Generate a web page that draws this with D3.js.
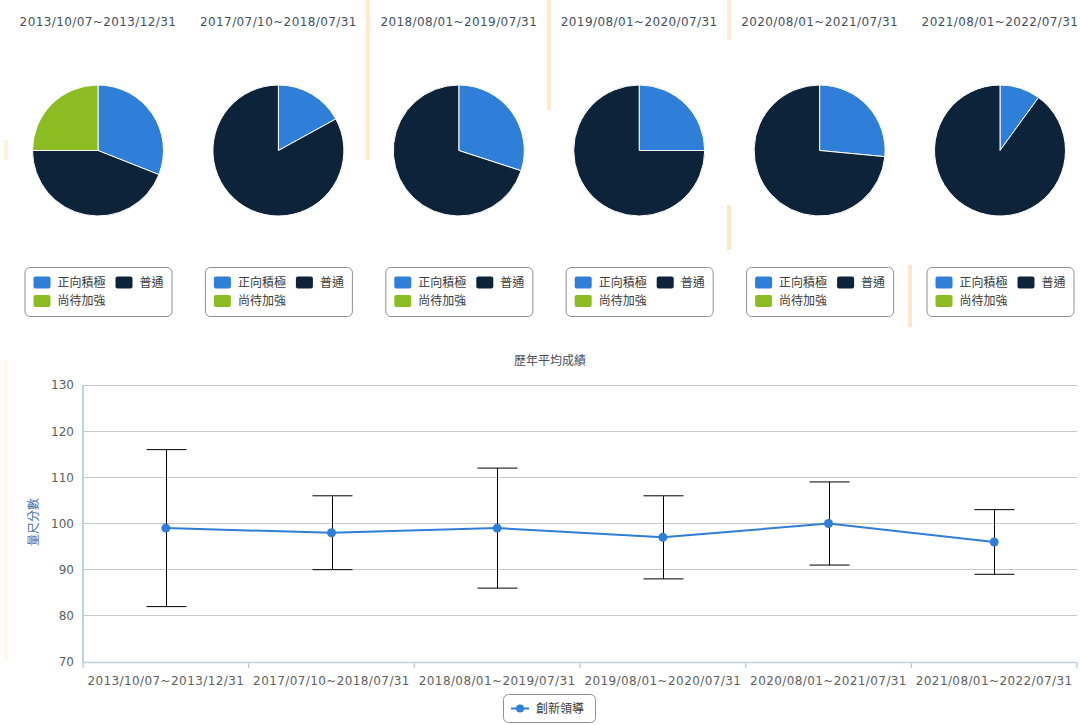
<!DOCTYPE html>
<html>
<head>
<meta charset="utf-8">
<script src="https://cdn.jsdelivr.net/npm/d3@7/dist/d3.min.js"></script>
<style>
  html, body { margin: 0; padding: 0; background: #fff; }
  svg { display: block; font-family: "DejaVu Sans", "Noto Sans CJK TC", sans-serif; }
</style>
</head>
<body>
<svg id="chart" width="1080" height="725"></svg>
<script>
// ---------- data ----------
const periods = ["2013/10/07~2013/12/31", "2017/07/10~2018/07/31", "2018/08/01~2019/07/31",
                 "2019/08/01~2020/07/31", "2020/08/01~2021/07/31", "2021/08/01~2022/07/31"];
const pieCategories = ["正向積極", "普通", "尚待加強"];
const positiveShare = [31, 17, 30, 25, 26.5, 10];
const normalShare   = [44, 83, 70, 75, 73.5, 90];
const improveShare  = [25, 0, 0, 0, 0, 0];

const meanScores = [99, 98, 99, 97, 100, 96];
const lowScores  = [82, 90, 86, 88, 91, 89];
const highScores = [116, 106, 112, 106, 109, 103];
const yTicks = [70, 80, 90, 100, 110, 120, 130];
const lineTitle = "歷年平均成績";
const yAxisTitle = "量尺分數";
const seriesName = "創新領導";

// ---------- style ----------
const pieColors = ["#2F7ED8", "#0D233A", "#8BBC21"];
const svg = d3.select("#chart");

// faint decorative stripes (screenshot background)
const stripes = svg.append("g").attr("fill", "#FFD9A0");
[[366, 0, 160, 0.55], [547, 0, 110, 0.55], [727, 0, 40, 0.45], [727, 205, 45, 0.6], [908, 265, 62, 0.6],
 [4, 140, 20, 0.35], [4, 360, 300, 0.2]]
  .forEach(s => stripes.append("rect").attr("x", s[0]).attr("y", s[1]).attr("width", 4)
    .attr("height", s[2]).attr("opacity", s[3]));

// ---------- pies ----------
const panelX = d3.scalePoint().domain(periods).range([98, 1000]);
const pie = d3.pie().sort(null).value(d => d.v);
const arc = d3.arc().innerRadius(0).outerRadius(65.5);

periods.forEach((p, i) => {
  const cx = panelX(p);
  const g = svg.append("g");
  g.append("text").attr("x", cx).attr("y", 26).attr("text-anchor", "middle")
    .attr("font-size", 12).attr("letter-spacing", "0.4px").attr("fill", "#44505E").text(p);

  const vals = [positiveShare[i], normalShare[i], improveShare[i]]
    .map((v, k) => ({ v, k }));
  const pg = g.append("g").attr("transform", `translate(${cx},150.5)`);
  pg.selectAll("path").data(pie(vals).filter(d => d.data.v > 0)).join("path")
    .attr("d", arc).attr("fill", d => pieColors[d.data.k])
    .attr("stroke", "#fff").attr("stroke-width", 1);

  // legend
  const lg = g.append("g").attr("transform", `translate(${cx - 73.5},267)`);
  lg.append("rect").attr("x", 0.5).attr("y", 0.5).attr("width", 147).attr("height", 49)
    .attr("rx", 5).attr("fill", "#fff").attr("stroke", "#909090");
  const items = [
    { k: 0, x: 9, y: 15.5 },
    { k: 1, x: 91, y: 15.5 },
    { k: 2, x: 9, y: 34 }
  ];
  items.forEach(it => {
    lg.append("rect").attr("x", it.x).attr("y", it.y - 6).attr("width", 17).attr("height", 12)
      .attr("rx", 2).attr("fill", pieColors[it.k]);
    lg.append("text").attr("x", it.x + 24).attr("y", it.y).attr("dy", "0.36em")
      .attr("font-size", 12).attr("fill", "#3a3a3a").text(pieCategories[it.k]);
  });
});

// ---------- line chart with error bars ----------
const plotLeft = 83, plotRight = 1077, plotTop = 385, plotBottom = 662;
const x = d3.scaleBand().domain(periods).range([plotLeft, plotRight]).padding(0);
const y = d3.scaleLinear().domain([70, 130]).range([plotBottom, plotTop]);

svg.append("text").attr("x", 550).attr("y", 365).attr("text-anchor", "middle")
  .attr("font-size", 12).attr("fill", "#44505E").text(lineTitle);

// grid
svg.append("g").selectAll("line").data(yTicks.filter(t => t > 70)).join("line")
  .attr("x1", plotLeft).attr("x2", plotRight).attr("y1", d => y(d)).attr("y2", d => y(d))
  .attr("stroke", "#C8C8C8").attr("stroke-width", 1).attr("shape-rendering", "crispEdges");

// y axis
const yAxis = svg.append("g").attr("transform", `translate(${plotLeft},0)`)
  .call(d3.axisLeft(y).tickValues(yTicks).tickSize(0).tickPadding(9));
yAxis.select(".domain").remove();
yAxis.selectAll("text").attr("font-size", 12).attr("fill", "#606060").attr("font-family", "DejaVu Sans");
svg.append("line").attr("x1", plotLeft).attr("x2", plotLeft).attr("y1", plotTop).attr("y2", plotBottom)
  .attr("stroke", "#C0D0E0").attr("stroke-width", 2);

svg.append("text").attr("transform", `translate(38,522) rotate(-90)`)
  .attr("text-anchor", "middle").attr("font-size", 12).attr("fill", "#4572A7").text(yAxisTitle);

// x axis
svg.append("line").attr("x1", plotLeft).attr("x2", plotRight).attr("y1", plotBottom + 0.5).attr("y2", plotBottom + 0.5)
  .attr("stroke", "#C0D0E0").attr("stroke-width", 1.5);
const xAxis = svg.append("g").attr("transform", `translate(0,${plotBottom})`)
  .call(d3.axisBottom(x).tickSize(0).tickPadding(14));
xAxis.select(".domain").remove();
xAxis.selectAll("text").attr("font-size", 12).attr("fill", "#606060")
  .attr("letter-spacing", "0.4px").attr("font-family", "DejaVu Sans");
const tickXs = periods.map(p => x(p)).concat([plotRight]);
svg.append("g").selectAll("line").data(tickXs).join("line")
  .attr("x1", d => d).attr("x2", d => d)
  .attr("y1", plotBottom).attr("y2", plotBottom + 6)
  .attr("stroke", "#C0D0E0").attr("stroke-width", 1.5);

// line series
const cxOf = p => x(p) + x.bandwidth() / 2;
const lineGen = d3.line().x((d, i) => cxOf(periods[i])).y(d => y(d));
svg.append("path").datum(meanScores).attr("d", lineGen)
  .attr("fill", "none").attr("stroke", "#2F7ED8").attr("stroke-width", 2);

// error bars
const eb = svg.append("g").attr("stroke", "#000").attr("stroke-width", 1);
periods.forEach((p, i) => {
  const cx = Math.round(cxOf(p)) + 0.5;
  eb.append("line").attr("x1", cx).attr("x2", cx).attr("y1", y(highScores[i])).attr("y2", y(lowScores[i]));
  eb.append("line").attr("x1", cx - 20).attr("x2", cx + 20).attr("y1", y(highScores[i])).attr("y2", y(highScores[i]));
  eb.append("line").attr("x1", cx - 20).attr("x2", cx + 20).attr("y1", y(lowScores[i])).attr("y2", y(lowScores[i]));
});

svg.append("g").selectAll("circle").data(meanScores).join("circle")
  .attr("cx", (d, i) => cxOf(periods[i])).attr("cy", d => y(d)).attr("r", 4.5)
  .attr("fill", "#2F7ED8");

// legend
const bl = svg.append("g").attr("transform", "translate(503,694)");
bl.append("rect").attr("x", 0.5).attr("y", 0.5).attr("width", 92).attr("height", 28)
  .attr("rx", 5).attr("fill", "#fff").attr("stroke", "#909090");
bl.append("line").attr("x1", 8).attr("x2", 26).attr("y1", 14.5).attr("y2", 14.5)
  .attr("stroke", "#2F7ED8").attr("stroke-width", 2);
bl.append("circle").attr("cx", 17).attr("cy", 14.5).attr("r", 4).attr("fill", "#2F7ED8");
bl.append("text").attr("x", 33).attr("y", 14.5).attr("dy", "0.36em")
  .attr("font-size", 12).attr("fill", "#3a3a3a").text(seriesName);
</script>
</body>
</html>
